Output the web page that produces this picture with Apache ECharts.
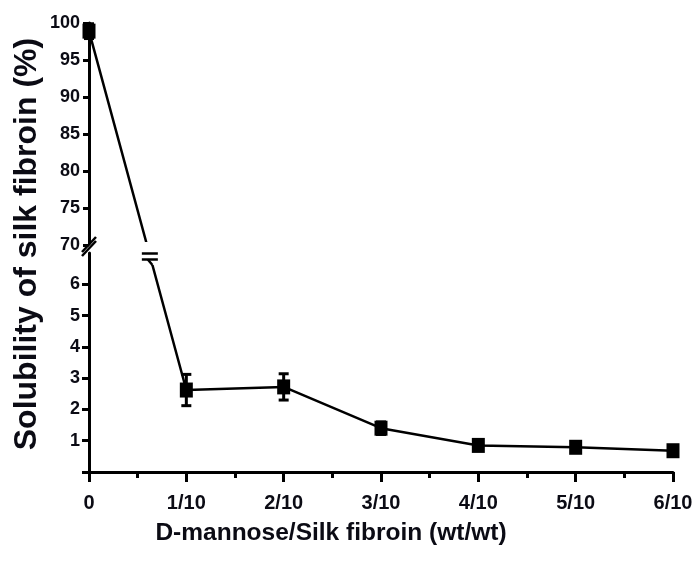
<!DOCTYPE html>
<html>
<head>
<meta charset="utf-8">
<script src="https://cdn.jsdelivr.net/npm/echarts@6/dist/echarts.min.js"></script>
<style>
  html, body { margin: 0; padding: 0; background: #fff; }
  #chart { width: 698px; height: 563px; }
</style>
</head>
<body>
<div id="chart"></div>
<script>
// D-mannose / silk fibroin ratio (wt/wt) and measured solubility (%)
var ratioLabels = ['0', '1/10', '2/10', '3/10', '4/10', '5/10', '6/10'];
var solubility = [98.9, 2.62, 2.72, 1.40, 0.85, 0.79, 0.68];
var solubilityErr = [1.0, 0.5, 0.42, 0.2, 0.15, 0.15, 0.15];

// Broken y axis: upper segment and lower segment tick values
var upperTicks = [70, 75, 80, 85, 90, 95, 100];
var lowerTicks = [0, 1, 2, 3, 4, 5, 6];
var lowerLabels = [1, 2, 3, 4, 5, 6];

// Plot layout (pixels)
var PLOT_LEFT = 89, PLOT_WIDTH = 584;
var UPPER = { top: 23, height: 222, min: 70, max: 100 };
var LOWER = { top: 253, height: 219, min: 0, max: 7 };
var PLOT_BOTTOM = LOWER.top + LOWER.height;
var OVERLAY_H = PLOT_BOTTOM - UPPER.top;

var FONT = '"Liberation Sans", Arial, Helvetica, sans-serif';
var INK = '#0b0b14';

// Piecewise scale used by the broken axis: maps a value onto the
// full plot height (in pixels above the plot bottom)
function brokenY(v) {
  if (v <= LOWER.max) {
    return (v - LOWER.min) / (LOWER.max - LOWER.min) * LOWER.height;
  }
  var upperBase = PLOT_BOTTOM - (UPPER.top + UPPER.height);
  return upperBase + (v - UPPER.min) / (UPPER.max - UPPER.min) * UPPER.height;
}

var lineData = solubility.map(function (v, i) { return [i, brokenY(v)]; });
var errData = solubility.map(function (v, i) {
  return [i, brokenY(v - solubilityErr[i]), brokenY(v + solubilityErr[i])];
});

var axisLine = { show: true, onZero: false, lineStyle: { color: '#000', width: 3 } };
var tickLabel = { color: INK, fontFamily: FONT, fontWeight: 'bold', fontSize: 18, margin: 9 };

var chart = echarts.init(document.getElementById('chart'), null, { renderer: 'canvas' });

chart.setOption({
  animation: false,
  backgroundColor: '#fff',
  grid: [
    { left: PLOT_LEFT, top: UPPER.top, width: PLOT_WIDTH, height: UPPER.height },
    { left: PLOT_LEFT, top: LOWER.top, width: PLOT_WIDTH, height: LOWER.height },
    { left: PLOT_LEFT, top: UPPER.top, width: PLOT_WIDTH, height: OVERLAY_H }
  ],
  xAxis: [
    { gridIndex: 0, type: 'value', min: 0, max: ratioLabels.length - 1, show: false },
    {
      gridIndex: 1, type: 'value', min: 0, max: ratioLabels.length - 1, interval: 1,
      axisLine: axisLine,
      axisTick: { show: true, length: 10, lineStyle: { color: '#000', width: 3 } },
      minorTick: { show: true, splitNumber: 2, length: 6, lineStyle: { color: '#000', width: 3 } },
      splitLine: { show: false },
      minorSplitLine: { show: false },
      axisLabel: {
        color: INK, fontFamily: FONT, fontWeight: 'bold', fontSize: 20, margin: 21,
        formatter: function (v) { return ratioLabels[Math.round(v)]; }
      }
    },
    { gridIndex: 2, type: 'value', min: 0, max: ratioLabels.length - 1, show: false }
  ],
  yAxis: [
    {
      gridIndex: 0, type: 'value', min: UPPER.min, max: UPPER.max, interval: 5,
      axisLine: axisLine,
      axisTick: { show: true, length: 6, lineStyle: { color: '#000', width: 3 },
        customValues: upperTicks },
      axisLabel: Object.assign({ customValues: upperTicks }, tickLabel),
      splitLine: { show: false }
    },
    {
      gridIndex: 1, type: 'value', min: LOWER.min, max: LOWER.max, interval: 1,
      axisLine: axisLine,
      axisTick: { show: true, length: 7, lineStyle: { color: '#000', width: 3 },
        customValues: lowerTicks },
      axisLabel: Object.assign({ customValues: lowerLabels }, tickLabel),
      splitLine: { show: false }
    },
    { gridIndex: 2, type: 'value', min: 0, max: OVERLAY_H, show: false }
  ],
  series: [
    {
      type: 'custom',
      xAxisIndex: 2, yAxisIndex: 2,
      z: 3,
      data: errData,
      renderItem: function (params, api) {
        var lo = api.coord([api.value(0), api.value(1)]);
        var hi = api.coord([api.value(0), api.value(2)]);
        var cap = 5;
        var style = { stroke: '#000', lineWidth: 3 };
        return {
          type: 'group',
          children: [
            { type: 'line', shape: { x1: lo[0], y1: lo[1], x2: hi[0], y2: hi[1] }, style: style },
            { type: 'line', shape: { x1: lo[0] - cap, y1: lo[1], x2: lo[0] + cap, y2: lo[1] }, style: style },
            { type: 'line', shape: { x1: hi[0] - cap, y1: hi[1], x2: hi[0] + cap, y2: hi[1] }, style: style }
          ]
        };
      }
    },
    {
      type: 'line',
      xAxisIndex: 2, yAxisIndex: 2,
      z: 4,
      clip: false,
      data: lineData,
      symbol: 'rect',
      symbolSize: [13, 15],
      itemStyle: { color: '#000' },
      lineStyle: { color: '#000', width: 2.5 }
    }
  ]
});

// Break marks: on the y axis between the two segments, and on the data line
// where it passes from the upper segment to the lower one
(function drawBreaks() {
  var yUpperEnd = chart.convertToPixel({ yAxisIndex: 0 }, UPPER.min);
  var yLowerTop = chart.convertToPixel({ yAxisIndex: 1 }, LOWER.max);
  var xAxisPx = chart.convertToPixel({ xAxisIndex: 1 }, 0);
  var p0 = chart.convertToPixel({ xAxisIndex: 2, yAxisIndex: 2 }, lineData[0]);
  var p1 = chart.convertToPixel({ xAxisIndex: 2, yAxisIndex: 2 }, lineData[1]);

  function xOnSegment(y) {
    return p0[0] + (p1[0] - p0[0]) * (y - p0[1]) / (p1[1] - p0[1]);
  }

  var gapTop = yUpperEnd - 3;
  var gapBottom = yLowerTop + 12;
  var xa = xOnSegment(gapTop), xb = xOnSegment(gapBottom);
  var xm = xOnSegment((gapTop + gapBottom) / 2 + 2);
  var midY = (gapTop + gapBottom) / 2;

  var ink = { stroke: '#000', lineWidth: 2.5 };
  chart.setOption({
    graphic: [
      {
        type: 'polygon', z: 100, silent: true,
        shape: { points: [[xa - 6, gapTop], [xa + 6, gapTop], [xb + 6, gapBottom], [xb - 6, gapBottom]] },
        style: { fill: '#fff' }
      },
      { type: 'line', z: 101, silent: true,
        shape: { x1: xm - 8, y1: midY, x2: xm + 8, y2: midY }, style: ink },
      { type: 'line', z: 101, silent: true,
        shape: { x1: xm - 8, y1: midY + 6, x2: xm + 8, y2: midY + 6 }, style: ink },
      { type: 'line', z: 101, silent: true,
        shape: { x1: xm - 2, y1: midY + 6, x2: xb, y2: gapBottom }, style: ink },
      {
        type: 'polygon', z: 100, silent: true,
        shape: { points: [[xAxisPx - 7, yLowerTop + 1], [xAxisPx + 7, yUpperEnd - 7],
          [xAxisPx + 7, yUpperEnd - 2], [xAxisPx - 7, yLowerTop + 6]] },
        style: { fill: '#fff' }
      },
      { type: 'line', z: 101, silent: true,
        shape: { x1: xAxisPx - 7, y1: yLowerTop - 1, x2: xAxisPx + 7, y2: yUpperEnd - 8 },
        style: { stroke: '#000', lineWidth: 2.5 } },
      { type: 'line', z: 101, silent: true,
        shape: { x1: xAxisPx - 7, y1: yLowerTop + 3, x2: xAxisPx + 7, y2: yUpperEnd - 4 },
        style: { stroke: '#000', lineWidth: 2.5 } },
      {
        type: 'text', z: 101, silent: true,
        x: 331, y: 533,
        style: {
          text: 'D-mannose/Silk fibroin (wt/wt)',
          fill: INK, font: 'bold 24.5px ' + FONT,
          align: 'center', verticalAlign: 'middle'
        }
      },
      {
        type: 'text', z: 101, silent: true,
        x: 27, y: 244, rotation: Math.PI / 2,
        style: {
          text: 'Solubility of silk fibroin (%)',
          fill: INK, font: 'bold 32px ' + FONT,
          align: 'center', verticalAlign: 'middle'
        }
      }
    ]
  });
})();
</script>
</body>
</html>
